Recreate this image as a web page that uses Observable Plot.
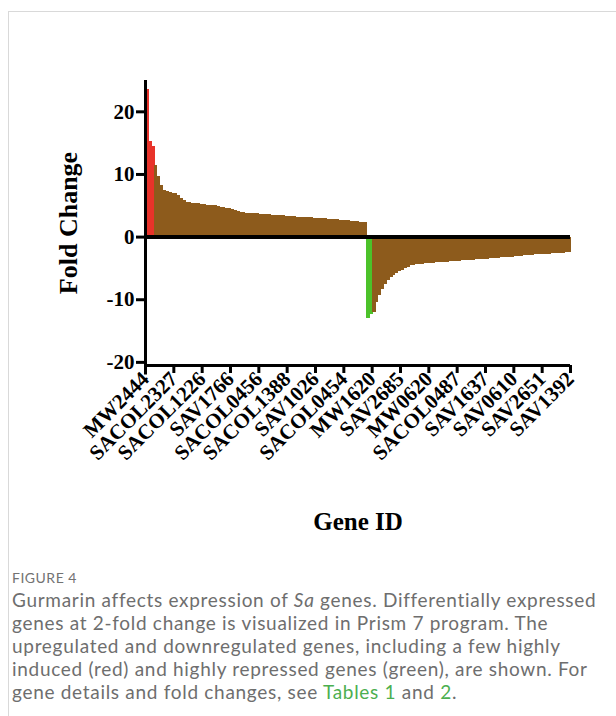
<!DOCTYPE html>
<html>
<head>
<meta charset="utf-8">
<script src="https://cdn.jsdelivr.net/npm/d3@7"></script>
<script src="https://cdn.jsdelivr.net/npm/@observablehq/plot@0.6"></script>
<style>
  html, body { margin: 0; padding: 0; background: #fff; width: 616px; height: 716px; overflow: hidden; }
  #card { position: absolute; left: 8px; top: 11px; width: 620px; height: 720px; border-top: 1px solid #d9d9d9; border-left: 1px solid #d9d9d9; }
  #chart { position: absolute; left: 0; top: 0; }
  #caption { position: absolute; left: 12px; top: 568px; font-family: Lato, "Open Sans", sans-serif; color: #6e6e6e; }
  #caption .fig { font-size: 14px; letter-spacing: 0.5px; line-height: 19px; color: #727272; }
  #caption .txt { font-size: 19px; letter-spacing: 0.7px; line-height: 23px; white-space: nowrap; margin-top: 1px; }
  #caption .lnk { color: #4caf50; }
</style>
</head>
<body>
<div id="card"></div>
<div id="chart"></div>
<div id="caption">
  <div class="fig">FIGURE 4</div>
  <div class="txt">Gurmarin affects expression of <i>Sa</i> genes. Differentially expressed<br>genes at 2-fold change is visualized in Prism 7 program. The<br>upregulated and downregulated genes, including a few highly<br>induced (red) and highly repressed genes (green), are shown. For<br>gene details and fold changes, see <span class="lnk">Tables 1</span> and <span class="lnk">2</span>.</div>
</div>
<script>
// Fold changes, ordered as in the figure (left to right)
const highlyInduced = [23.5, 15.2, 14.5];
const upregulated = [
  11.5, 9.6, 8.3, 7.4, 7.2, 7.1, 7.0, 6.9, 6.6, 6.2,
  5.8, 5.6, 5.5, 5.4, 5.3, 5.3, 5.2, 5.2, 5.1, 5.1,
  5.0, 5.0, 4.9, 4.8, 4.7, 4.6, 4.5, 4.4, 4.3, 4.1, 3.9,
  3.85, 3.8, 3.8, 3.75, 3.7, 3.7, 3.65, 3.6, 3.6, 3.55,
  3.5, 3.5, 3.45, 3.4, 3.4, 3.35, 3.3, 3.3, 3.25, 3.2,
  3.2, 3.15, 3.1, 3.1, 3.05, 3.0, 3.0, 2.95, 2.9, 2.9,
  2.85, 2.8, 2.8, 2.75, 2.7, 2.7, 2.65, 2.6, 2.55, 2.5,
  2.45, 2.4, 2.35, 2.3
];
const highlyRepressed = [-13.0, -12.4];
const downregulated = [
  -12.0, -10.5, -9.3, -8.3, -7.6, -7.0, -6.5, -6.2, -5.8, -5.5,
  -5.3, -5.0, -4.8, -4.6, -4.5, -4.4, -4.3, -4.3, -4.25, -4.2,
  -4.2, -4.15, -4.1, -4.1, -4.05, -4.0, -4.0, -3.95, -3.9, -3.9,
  -3.85, -3.8, -3.8, -3.75, -3.7, -3.7, -3.65, -3.6, -3.6, -3.55,
  -3.5, -3.45, -3.4, -3.4, -3.35, -3.3, -3.3, -3.25, -3.2, -3.2,
  -3.15, -3.1, -3.05, -3.0, -3.0, -2.95, -2.9, -2.85, -2.8, -2.8,
  -2.75, -2.7, -2.7, -2.65, -2.6, -2.6, -2.55, -2.55, -2.5, -2.5
];
const geneTicks = ["MW2444", "SACOL2327", "SACOL1226", "SAV1766", "SACOL0456", "SACOL1388",
  "SAV1026", "SACOL0454", "MW1620", "SAV2685", "MW0620", "SACOL0487", "SAV1637",
  "SAV0610", "SAV2651", "SAV1392"];
const genesPerTick = 10;
const yTicks = [20, 10, 0, -10, -20];

const groups = ["Highly induced", "Upregulated", "Highly repressed", "Downregulated"];
const groupColors = ["#e8332a", "#8d5b1c", "#4cc22a", "#8d5b1c"];

const data = [];
[[highlyInduced, groups[0]], [upregulated, groups[1]], [highlyRepressed, groups[2]], [downregulated, groups[3]]]
  .forEach(([arr, g]) => arr.forEach(v => data.push({i: data.length, v, g})));
const n = data.length;
const tickPos = geneTicks.map((_, k) => k * genesPerTick);

const serif = "'Liberation Serif', 'Times New Roman', serif";

const chart = Plot.plot({
  width: 616,
  height: 540,
  marginTop: 80,
  marginBottom: 175,
  marginLeft: 145,
  marginRight: 46,
  x: {domain: [0, n], axis: null},
  y: {domain: [-20.5, 25], axis: null},
  color: {domain: groups, range: groupColors},
  marks: [
    Plot.rectY(data, {x1: "i", x2: d => d.i + 1, y: "v", fill: "g", insetLeft: 0, insetRight: -1, shapeRendering: "crispEdges"}),
    Plot.ruleY([0], {stroke: "black", strokeWidth: 4}),
    Plot.ruleY([-20.5], {stroke: "black", strokeWidth: 3}),
    Plot.ruleX([0], {y1: 25, y2: -22, stroke: "black", strokeWidth: 3}),
    Plot.axisY({
      ticks: yTicks, tickSize: 9, tickPadding: 2, strokeWidth: 3, label: null,
      tickFormat: d => String(d), fontSize: 21, fontWeight: "bold", fontFamily: serif, fill: "black"
    }),
    Plot.axisX({
      ticks: tickPos, tickSize: 8, tickPadding: 2, strokeWidth: 3, label: null, tickRotate: -45,
      tickFormat: d => geneTicks[d / genesPerTick], fontSize: 21, fontWeight: "bold", fontFamily: serif, fill: "black"
    }),
    Plot.text(["Fold Change"], {
      frameAnchor: "left", dx: -77, rotate: -90, text: d => d, textAnchor: "middle", lineAnchor: "middle",
      fontSize: 26, fontWeight: "bold", fontFamily: serif, fill: "black"
    }),
    Plot.text(["Gene ID"], {
      frameAnchor: "bottom", dy: 156, text: d => d, textAnchor: "middle", lineAnchor: "middle",
      fontSize: 25, fontWeight: "bold", fontFamily: serif, fill: "black"
    })
  ]
});
document.getElementById("chart").appendChild(chart);
</script>
</body>
</html>
